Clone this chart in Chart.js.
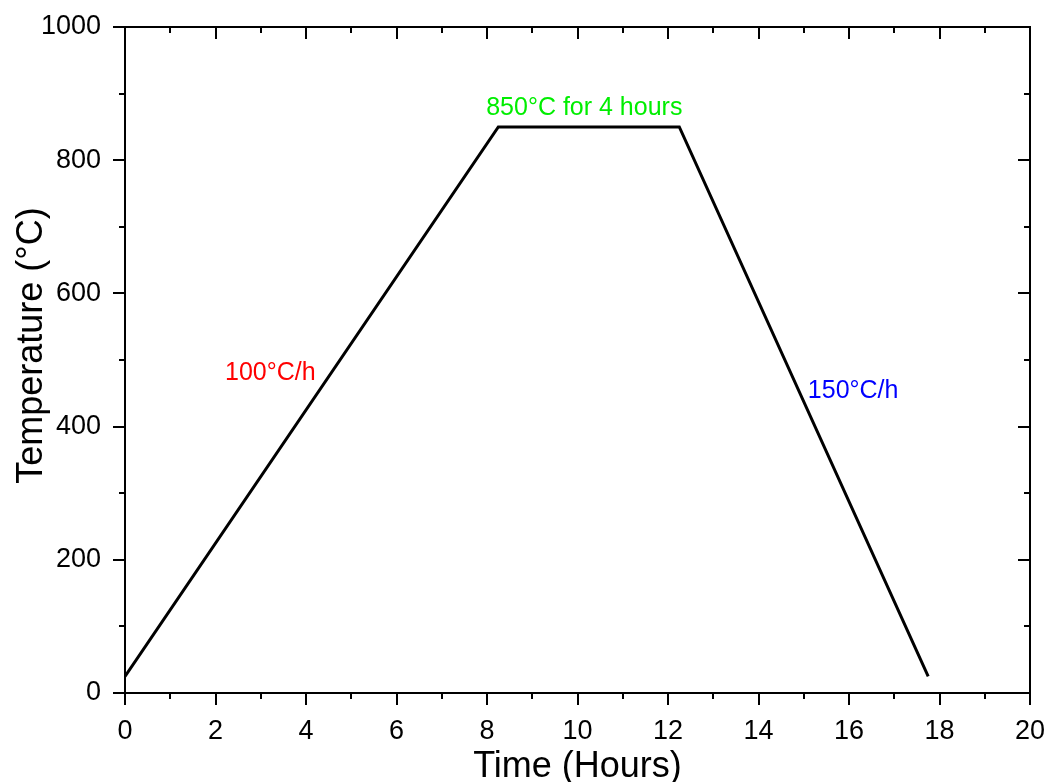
<!DOCTYPE html>
<html>
<head>
<meta charset="utf-8">
<script src="https://cdn.jsdelivr.net/npm/chart.js@4/dist/chart.umd.min.js"></script>
<style>
html,body{margin:0;padding:0;background:#fff;}
#wrap{width:1047px;height:782px;position:relative;}
</style>
</head>
<body>
<div id="wrap"><canvas id="c" width="1047" height="782"></canvas></div>
<script>
// Data
const timeHours = [0, 8.25, 12.25, 17.75];
const temperature = [25, 850, 850, 25];
const xTickValues = [0, 2, 4, 6, 8, 10, 12, 14, 16, 18, 20];
const yTickValues = [0, 200, 400, 600, 800, 1000];
const annotationTexts = ["850°C for 4 hours", "100°C/h", "150°C/h"];
const annotationX = [10.15, 2.21, 15.09];
const annotationY = [868, 470, 443];
const annotationColors = ["#00ee00", "#ff0000", "#0000ff"];
const annotationAlign = ["center", "left", "left"];
const xTitle = "Time (Hours)";
const yTitle = "Temperature (°C)";

const FONT = '"Liberation Sans", Arial, sans-serif';

const framePlugin = {
  id: 'frame',
  afterDraw(chart) {
    const ctx = chart.ctx;
    const a = chart.chartArea;
    const xs = chart.scales.x, ys = chart.scales.y;
    ctx.save();
    ctx.strokeStyle = '#000';
    ctx.lineWidth = 2;
    ctx.lineCap = 'butt';
    ctx.strokeRect(a.left, a.top, a.right - a.left, a.bottom - a.top);
    for (let v = 0; v <= 20; v += 1) {
      const px = Math.round(xs.getPixelForValue(v));
      const L = (v % 2 === 0) ? 12 : 6;
      ctx.beginPath();
      ctx.moveTo(px, a.bottom); ctx.lineTo(px, a.bottom + L);
      ctx.moveTo(px, a.top); ctx.lineTo(px, a.top + L);
      ctx.stroke();
    }
    for (let v = 0; v <= 1000; v += 100) {
      const py = Math.round(ys.getPixelForValue(v));
      const L = (v % 200 === 0) ? 12 : 6;
      ctx.beginPath();
      ctx.moveTo(a.left, py); ctx.lineTo(a.left - L, py);
      ctx.moveTo(a.right, py); ctx.lineTo(a.right - L, py);
      ctx.stroke();
    }
    ctx.font = '25px ' + FONT;
    ctx.textBaseline = 'alphabetic';
    for (let i = 0; i < annotationTexts.length; i++) {
      ctx.fillStyle = annotationColors[i];
      ctx.textAlign = annotationAlign[i];
      ctx.fillText(annotationTexts[i], xs.getPixelForValue(annotationX[i]), ys.getPixelForValue(annotationY[i]));
    }
    ctx.fillStyle = '#000';
    ctx.font = '36px ' + FONT;
    ctx.textAlign = 'center';
    ctx.textBaseline = 'alphabetic';
    ctx.fillText(xTitle, (a.left + a.right) / 2, 777);
    ctx.save();
    ctx.translate(42, 345.5);
    ctx.rotate(-Math.PI / 2);
    ctx.fillText(yTitle, 0, 0);
    ctx.restore();
    ctx.restore();
  }
};

new Chart(document.getElementById('c'), {
  type: 'scatter',
  data: {
    datasets: [{
      data: timeHours.map((t, i) => ({x: t, y: temperature[i]})),
      showLine: true,
      borderColor: '#000',
      borderWidth: 3,
      pointRadius: 0,
      fill: false,
      tension: 0
    }]
  },
  options: {
    responsive: false,
    animation: false,
    devicePixelRatio: 1,
    layout: {padding: {top: 27, right: 17, left: 0, bottom: 0}},
    plugins: {legend: {display: false}, tooltip: {enabled: false}},
    scales: {
      x: {
        type: 'linear', min: 0, max: 20,
        afterBuildTicks(s) { s.ticks = xTickValues.map(v => ({value: v})); },
        afterFit(s) { s.height = 89; s.paddingLeft = 0; s.paddingRight = 0; },
        grid: {display: false, drawTicks: false},
        border: {display: false},
        ticks: {color: '#000', font: {family: FONT, size: 27}, padding: 22, maxRotation: 0, autoSkip: false,
                callback: v => String(v)}
      },
      y: {
        type: 'linear', min: 0, max: 1000,
        afterBuildTicks(s) { s.ticks = yTickValues.map(v => ({value: v})); },
        afterFit(s) { s.width = 125; s.paddingTop = 0; s.paddingBottom = 0; },
        grid: {display: false, drawTicks: false},
        border: {display: false},
        ticks: {color: '#000', font: {family: FONT, size: 27}, padding: 24, autoSkip: false,
                callback: v => String(v)}
      }
    }
  },
  plugins: [framePlugin]
});
</script>
</body>
</html>
